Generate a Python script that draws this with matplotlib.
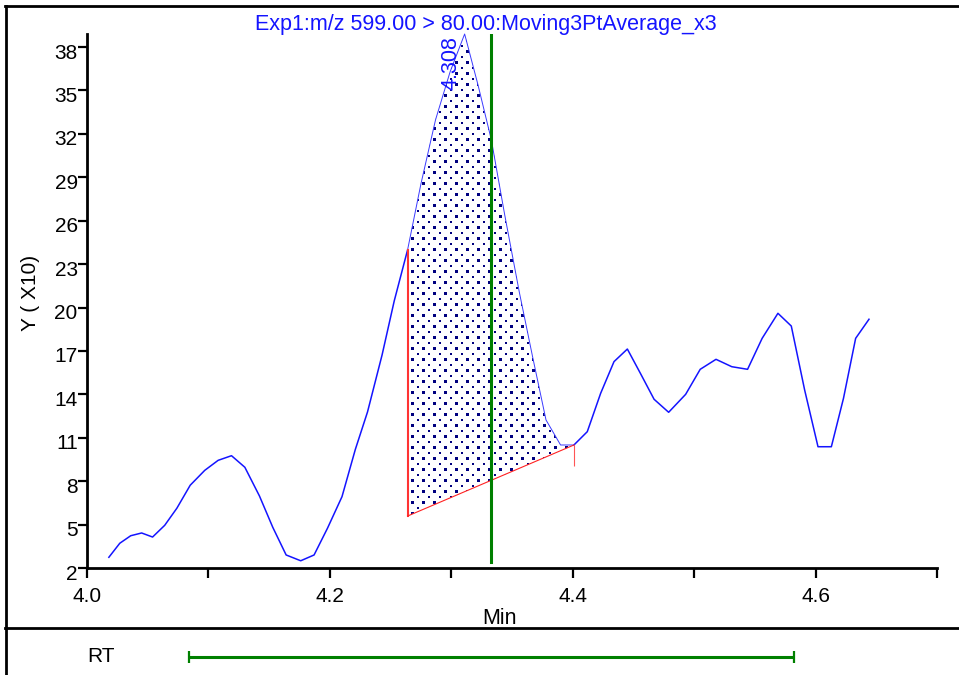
import numpy as np
import matplotlib
matplotlib.use("Agg")
import matplotlib.pyplot as plt
from matplotlib.lines import Line2D
from matplotlib.ticker import FixedLocator, FixedFormatter
from matplotlib.transforms import ScaledTranslation

plt.rcParams['font.family'] = ['Liberation Sans', 'DejaVu Sans']

# ---------------- data ----------------
time_min = [4.018, 4.027, 4.036, 4.045, 4.054, 4.064, 4.074, 4.085, 4.097, 4.108,
            4.119, 4.130, 4.142, 4.153, 4.164, 4.176, 4.187, 4.198, 4.210, 4.221,
            4.231, 4.243, 4.253, 4.264, 4.275, 4.287, 4.299, 4.311, 4.322, 4.333,
            4.344, 4.356, 4.367, 4.378, 4.390, 4.401, 4.412, 4.423, 4.434, 4.445,
            4.456, 4.467, 4.479, 4.493, 4.505, 4.518, 4.531, 4.544, 4.556, 4.569,
            4.580, 4.591, 4.602, 4.613, 4.623, 4.633, 4.644]
intensity = [2.74, 3.71, 4.23, 4.42, 4.14, 4.95, 6.13, 7.72, 8.75, 9.44,
             9.76, 8.96, 6.98, 4.81, 2.90, 2.50, 2.90, 4.74, 6.93, 10.20,
             12.78, 16.72, 20.45, 23.98, 28.54, 32.96, 36.28, 38.90, 35.38, 31.58,
             26.40, 21.07, 16.58, 12.23, 10.50, 10.50, 11.42, 14.07, 16.26, 17.13,
             15.41, 13.66, 12.76, 14.00, 15.73, 16.42, 15.91, 15.73, 17.87, 19.60,
             18.72, 14.30, 10.38, 10.38, 13.73, 17.87, 19.19]

peak_start_idx = 23
peak_end_idx = 35
peak_apex_idx = 27
baseline_start = 5.59
baseline_end = 10.50
peak_label = "4.308"

rt_expected = 4.333
rt_half_window = 0.249

x_ticks = [4.0, 4.1, 4.2, 4.3, 4.4, 4.5, 4.6, 4.7]
x_tick_labels = ["4.0", "", "4.2", "", "4.4", "", "4.6", ""]
y_ticks = [2, 5, 8, 11, 14, 17, 20, 23, 26, 29, 32, 35, 38]
y_tick_labels = [str(v) for v in y_ticks]

title = "Exp1:m/z 599.00 > 80.00:Moving3PtAverage_x3"
x_label = "Min"
y_label = "Y ( X10)"
rt_label = "RT"

# ---------------- figure ----------------
W, H = 959, 675
fig = plt.figure(figsize=(W / 100, H / 100), dpi=100)
fig.patch.set_facecolor("white")

ax_l, ax_b, ax_w, ax_h = 87, 568, 850, 534   # pixels
ax = fig.add_axes([ax_l / W, 1 - ax_b / H, ax_w / W, ax_h / H])
xlim = (4.0, 4.7)
ylim = (2.0, 38.9)

blue = "#1414ff"

t = np.array(time_min)
y = np.array(intensity)
s, e = peak_start_idx, peak_end_idx

# curve outside integrated region
ax.plot(t[:s + 1], y[:s + 1], color=blue, lw=1.1, zorder=4, clip_on=False)
ax.plot(t[e:], y[e:], color=blue, lw=1.1, zorder=4, clip_on=False)
# curve inside integrated region (thin)
ax.plot(t[s:e + 1], y[s:e + 1], color="#3a3aff", lw=0.7, zorder=4, clip_on=False)

# integrated polygon
poly_x = list(t[s:e + 1]) + [t[e], t[s]]
poly_y = list(y[s:e + 1]) + [baseline_end, baseline_start]
poly = ax.fill(poly_x, poly_y, facecolor="white", edgecolor="none", zorder=2)[0]

# dotted texture (2x oversampled) clipped to the polygon
ov = 2
hh, ww = ax_h * ov, ax_w * ov
yy, xx = np.mgrid[0:hh, 0:ww]
per = 11 * ov
dot = 5
mask = ((xx % per < dot) & (yy % per < dot)) | \
       (((xx - per // 2) % per < dot) & ((yy - per // 2) % per < dot))
tex = np.zeros((hh, ww, 4))
tex[..., 2] = 0.5
tex[..., 3] = mask.astype(float)
im = ax.imshow(tex, extent=(xlim[0], xlim[1], ylim[0], ylim[1]), origin="upper",
               interpolation="nearest", aspect="auto", zorder=3)
im.set_clip_path(poly)

# baseline / drop lines
ax.plot([t[s], t[s]], [baseline_start, y[s]], color="#ff3333", lw=1.5, zorder=5)
ax.plot([t[s], t[e]], [baseline_start, baseline_end], color="#ff2222", lw=0.8, zorder=5)
ax.plot([t[e]], [baseline_end], marker=3, ms=15, mew=0.8, color="#ff5555", zorder=5)

# expected RT line
ax.axvline(rt_expected, ymin=0.011, ymax=1.0, color="#008000", lw=2.2, zorder=6)

# peak label
ax.annotate(peak_label, xy=(t[peak_apex_idx], y[peak_apex_idx]), xytext=(-14, -2),
            textcoords="offset pixels", rotation=90, ha="center", va="top",
            color=blue, fontsize=15.5, zorder=7)

ax.set_xlim(*xlim)
ax.set_ylim(*ylim)

for side in ["top", "right"]:
    ax.spines[side].set_visible(False)
for side in ["left", "bottom"]:
    ax.spines[side].set_linewidth(2.0)

ax.xaxis.set_major_locator(FixedLocator(x_ticks))
ax.xaxis.set_major_formatter(FixedFormatter(x_tick_labels))
ax.yaxis.set_major_locator(FixedLocator(y_ticks))
ax.yaxis.set_major_formatter(FixedFormatter(y_tick_labels))
ax.tick_params(axis="x", direction="out", length=7, width=1.6, pad=7, labelsize=15)
ax.tick_params(axis="y", direction="out", length=6.7, width=1.6, pad=0, labelsize=15)

# y tick labels sit slightly below their ticks in the reference
shift = ScaledTranslation(0, -0.04, fig.dpi_scale_trans)
for tk in ax.yaxis.get_major_ticks():
    tk.label1.set_transform(tk.label1.get_transform() + shift)

# texts
fig.text(485.5 / W, 1 - 30 / H, title, ha="center", va="baseline", fontsize=15.5, color=blue)
fig.text(30 / W, 1 - 293 / H, y_label, rotation=90, ha="center", va="center", fontsize=15)
fig.text(500 / W, 1 - 624 / H, x_label, ha="center", va="baseline", fontsize=15.5)
fig.text(87 / W, 1 - 662 / H, rt_label, ha="left", va="baseline", fontsize=15)

# RT window panel
ax2 = fig.add_axes([ax_l / W, 0, ax_w / W, 47 / H])
ax2.set_xlim(*xlim)
ax2.set_ylim(0, 1)
ax2.axis("off")
ax2.errorbar([rt_expected], [0.377], xerr=[[rt_half_window], [rt_half_window]], fmt="none",
             ecolor="#008000", elinewidth=2.2, capsize=4.3, capthick=1.6)

# frame lines
fig.add_artist(Line2D([6 / W, 6 / W], [0, 1 - 6 / H], color="black", lw=2, transform=fig.transFigure))
fig.add_artist(Line2D([5 / W, 1], [1 - 6 / H, 1 - 6 / H], color="black", lw=2, transform=fig.transFigure))
fig.add_artist(Line2D([5 / W, 1], [1 - 628 / H, 1 - 628 / H], color="black", lw=2, transform=fig.transFigure))

fig.savefig("out.png", dpi=100, facecolor="white")
